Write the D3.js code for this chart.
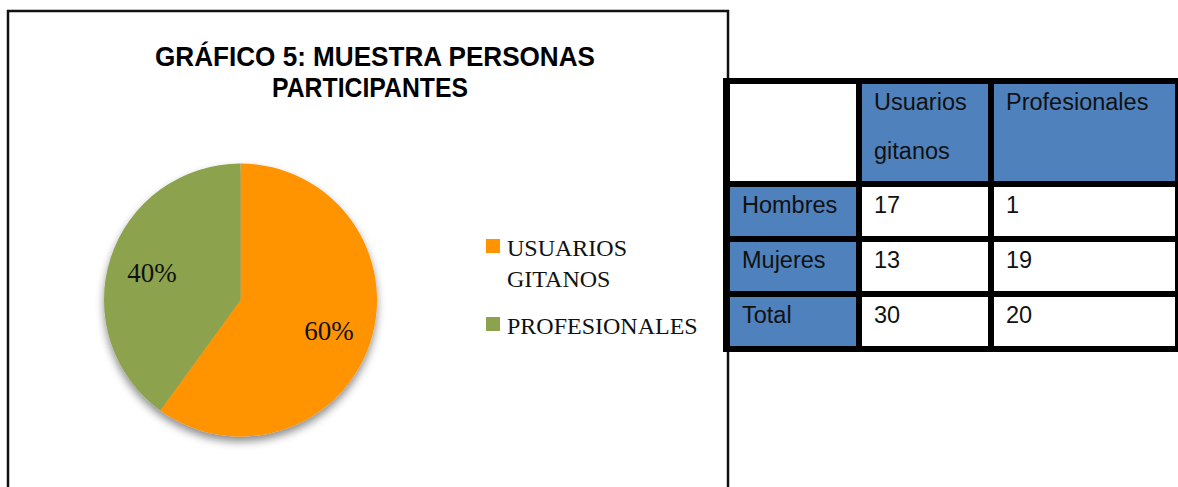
<!DOCTYPE html>
<html>
<head>
<meta charset="utf-8">
<script src="https://cdn.jsdelivr.net/npm/d3@7"></script>
<style>
  html, body { margin: 0; padding: 0; background: #fff; }
  svg { display: block; }
</style>
</head>
<body>
<svg id="chart" width="1178" height="487"></svg>
<script>
// ---- data ----
const titleLines = ["GRÁFICO 5: MUESTRA PERSONAS", "PARTICIPANTES"];
const categories = ["USUARIOS GITANOS", "PROFESIONALES"];
const legendLines = [["USUARIOS", "GITANOS"], ["PROFESIONALES"]];
const values = [30, 20];
const colors = ["#FF9400", "#8CA24E"];

const colLabels = [["Usuarios", "gitanos"], ["Profesionales"]];
const rowLabels = ["Hombres", "Mujeres", "Total"];
const usuariosGitanos = [17, 13, 30];
const profesionales = [1, 19, 20];

// ---- drawing ----
const svg = d3.select("#chart");
const defs = svg.append("defs");
const f = defs.append("filter").attr("id", "shadow")
  .attr("x", "-20%").attr("y", "-20%").attr("width", "140%").attr("height", "140%");
f.append("feDropShadow").attr("dx", 0).attr("dy", 5).attr("stdDeviation", 4)
  .attr("flood-color", "#000").attr("flood-opacity", 0.45);

// chart frame
svg.append("rect").attr("x", 8).attr("y", 11).attr("width", 720).attr("height", 520)
  .attr("fill", "#fff").attr("stroke", "#111").attr("stroke-width", 2.5);

// title
const titleFont = "'Liberation Sans', Arial, sans-serif";
svg.append("text").attr("x", 375).attr("y", 66).attr("text-anchor", "middle")
  .attr("font-family", titleFont).attr("font-weight", "bold").attr("font-size", 28)
  .attr("textLength", 440).attr("lengthAdjust", "spacingAndGlyphs")
  .text(titleLines[0]);
svg.append("text").attr("x", 370).attr("y", 97).attr("text-anchor", "middle")
  .attr("font-family", titleFont).attr("font-weight", "bold").attr("font-size", 28)
  .attr("textLength", 196).attr("lengthAdjust", "spacingAndGlyphs")
  .text(titleLines[1]);

// pie
const cx = 240.5, cy = 300, r = 136.5;
const pie = d3.pie().sort(null).value(d => d);
const arcs = pie(values);
const arc = d3.arc().innerRadius(0).outerRadius(r);
const labelArc = d3.arc().innerRadius(93).outerRadius(93);
const total = d3.sum(values);
const g = svg.append("g").attr("transform", `translate(${cx},${cy})`);
g.append("g").attr("filter", "url(#shadow)")
  .selectAll("path").data(arcs).join("path")
  .attr("d", arc).attr("fill", (d, i) => colors[i]);
const serif = "'Liberation Serif', 'Times New Roman', serif";
g.selectAll("text.lbl").data(arcs).join("text").attr("class", "lbl")
  .attr("x", d => labelArc.centroid(d)[0])
  .attr("y", d => labelArc.centroid(d)[1] + 11)
  .attr("text-anchor", "middle")
  .attr("font-family", serif).attr("font-size", 27).attr("fill", "#111")
  .text(d => Math.round(d.value / total * 100) + "%");

// legend
const legendY = [239, 317];
const lg = svg.append("g");
categories.forEach((c, i) => {
  lg.append("rect").attr("x", 486).attr("y", legendY[i]).attr("width", 14).attr("height", 14)
    .attr("fill", colors[i]);
  legendLines[i].forEach((line, j) => {
    lg.append("text").attr("x", 507).attr("y", legendY[i] + 17 + j * 31)
      .attr("font-family", serif).attr("font-size", 24).attr("fill", "#111")
      .text(line);
  });
});

// table
const sansT = "'Liberation Sans', Arial, sans-serif";
const colX = [[730, 856], [862, 988], [994, 1175]];
const rowY = [[84, 181], [187, 236], [242, 291], [297, 346]];
const blue = "#4F81BD";
const tg = svg.append("g");
tg.append("rect").attr("x", 723).attr("y", 78).attr("width", 1181 - 723).attr("height", 352 - 78)
  .attr("fill", "#000");

const cells = [];
rowY.forEach((ry, ri) => {
  colX.forEach((cxr, ci) => {
    let fill = "#fff", lines = [];
    if (ri === 0 && ci > 0) { fill = blue; lines = colLabels[ci - 1]; }
    else if (ri > 0 && ci === 0) { fill = blue; lines = [rowLabels[ri - 1]]; }
    else if (ri > 0 && ci === 1) { lines = [String(usuariosGitanos[ri - 1])]; }
    else if (ri > 0 && ci === 2) { lines = [String(profesionales[ri - 1])]; }
    cells.push({ x0: cxr[0], x1: cxr[1], y0: ry[0], y1: ry[1], fill, lines });
  });
});
tg.selectAll("rect.cell").data(cells).join("rect").attr("class", "cell")
  .attr("x", d => d.x0).attr("y", d => d.y0)
  .attr("width", d => d.x1 - d.x0).attr("height", d => d.y1 - d.y0)
  .attr("fill", d => d.fill);
cells.forEach(d => {
  d.lines.forEach((line, j) => {
    tg.append("text").attr("x", d.x0 + 12).attr("y", d.y0 + 26 + j * 49)
      .attr("font-family", sansT).attr("font-size", 23.5).attr("fill", "#111")
      .text(line);
  });
});
</script>
</body>
</html>
